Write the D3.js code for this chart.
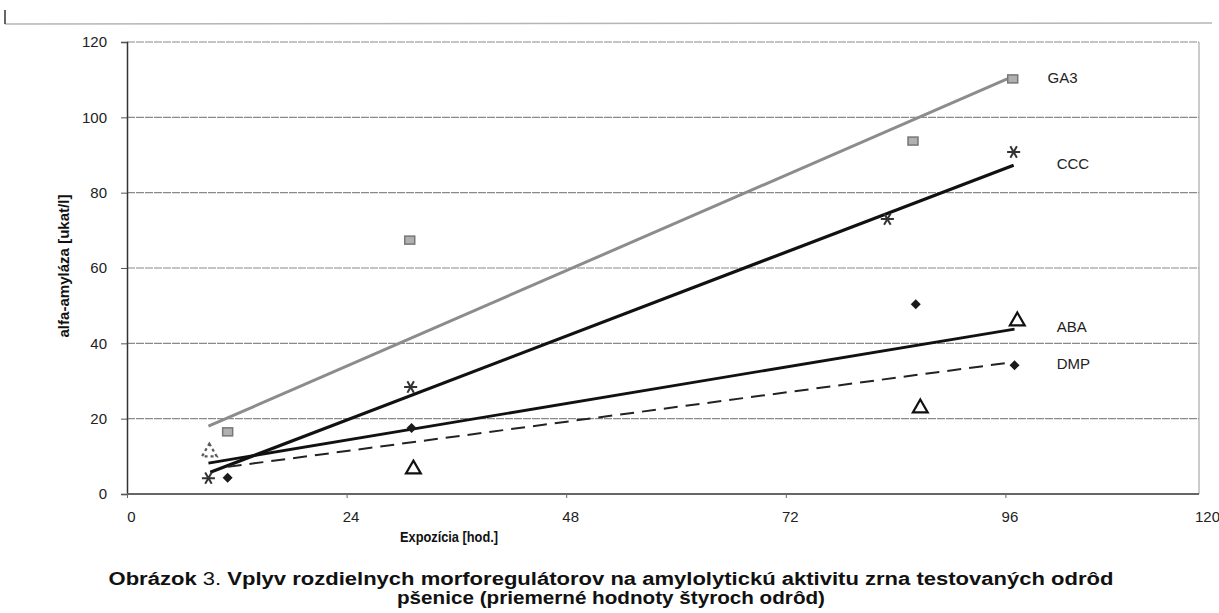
<!DOCTYPE html>
<html lang="sk">
<head>
  <meta charset="UTF-8" />
  <title>Obrázok 3</title>
  <script src="https://d3js.org/d3.v7.min.js"></script>
  <style>
    body { margin: 0; background: #fff; overflow: hidden; }
    svg { display: block; }
    .tick-y { font-family: 'Liberation Sans', Arial, sans-serif; font-size: 15px; fill: #222; }
    .tick-x { font-family: 'Liberation Sans', Arial, sans-serif; font-size: 15px; fill: #222; }
    .title { font-family: 'Liberation Sans', Arial, sans-serif; font-size: 14px; font-weight: bold; fill: #111; }
    .lbl { font-family: 'Liberation Sans', Arial, sans-serif; font-size: 15px; fill: #222; }
    .cap { font-family: 'Liberation Sans', Arial, sans-serif; font-size: 18px; font-weight: bold; fill: #111; }
  </style>
</head>
<body>
<svg width="1219" height="613"></svg>
<script>
// measured points (hours, alfa-amylase)
const ga3Pts = [[11.0, 16.5], [30.9, 67.4], [85.9, 93.7], [96.8, 110.2]];
const cccPts = [[8.9, 4.2], [31.0, 28.4], [83.1, 73.0], [96.9, 90.8]];
const abaPts = [[9.0, 11.1], [31.3, 6.6], [86.7, 22.8], [97.3, 45.9]];
const dmpPts = [[11.0, 4.3], [31.1, 17.5], [86.2, 50.4], [97.0, 34.2]];

// trend line end points
const ga3Trend = [[8.9, 18.0], [96.2, 110.2]];
const cccTrend = [[9.1, 5.8], [96.9, 87.3]];
const abaTrend = [[8.9, 8.2], [97.0, 43.8]];
const dmpTrend = [[11.0, 7.2], [96.8, 35.0]];

const seriesNames = ["GA3", "CCC", "ABA", "DMP"];
const labelPos = [[100.6, 110.5], [101.6, 87.8], [101.6, 44.5], [101.6, 34.5]];

const xTicks = [0, 24, 48, 72, 96, 120];
const yTicks = [0, 20, 40, 60, 80, 100, 120];

const svg = d3.select("svg");
const x = d3.scaleLinear().domain([0, 120]).range([127, 1225]);
const y = d3.scaleLinear().domain([0, 120]).range([494, 42]);
const plotRight = 1199;

// scan header line
svg.append("line").attr("x1", 5).attr("x2", 1212).attr("y1", 24).attr("y2", 23)
  .attr("stroke", "#b5b5b5").attr("stroke-width", 1.5);
svg.append("line").attr("x1", 5).attr("x2", 5).attr("y1", 10).attr("y2", 24)
  .attr("stroke", "#333").attr("stroke-width", 1.5);

// grid
svg.append("g").selectAll("line").data(yTicks.filter(d => d > 0)).join("line")
  .attr("x1", x(0)).attr("x2", plotRight)
  .attr("y1", d => y(d)).attr("y2", d => y(d))
  .attr("stroke", "#8a8a8a").attr("stroke-width", 1.2).attr("stroke-dasharray", "8,1");
svg.append("line").attr("x1", plotRight).attr("x2", plotRight).attr("y1", y(120)).attr("y2", y(0))
  .attr("stroke", "#999").attr("stroke-width", 1);

// axes
const yAxis = svg.append("g").attr("transform", `translate(${x(0)},0)`)
  .call(d3.axisLeft(y).tickValues(yTicks).tickSize(6).tickPadding(14));
yAxis.select(".domain").attr("stroke", "#333").attr("stroke-width", 1.5);
yAxis.selectAll("text").attr("class", "tick-y").attr("font-family", null).attr("font-size", null);
yAxis.selectAll(".tick line").attr("stroke", "#555");

const xAxis = svg.append("g").attr("transform", `translate(0,${y(0)})`)
  .call(d3.axisBottom(x).tickValues(xTicks).tickSize(4).tickPadding(13).tickFormat(d3.format("d")));
xAxis.select(".domain").remove();
xAxis.append("line").attr("x1", x(0)).attr("x2", plotRight).attr("stroke", "#666").attr("stroke-width", 2);
xAxis.selectAll("text").attr("class", "tick-x").attr("font-family", null).attr("font-size", null)
  .attr("dx", d => d === 120 ? -18 : 4);
xAxis.selectAll(".tick line").attr("stroke", "#666");

// axis titles
svg.append("text").attr("class", "title").attr("text-anchor", "middle")
  .attr("transform", `translate(69,${y(60) - 2}) rotate(-90)`)
  .attr("textLength", 143).attr("lengthAdjust", "spacingAndGlyphs").text("alfa-amyláza [ukat/l]");
svg.append("text").attr("class", "title").attr("text-anchor", "middle")
  .attr("x", 449).attr("y", 542).attr("textLength", 98).attr("lengthAdjust", "spacingAndGlyphs")
  .text("Expozícia [hod.]");

// trend lines
const line = d3.line().x(d => x(d[0])).y(d => y(d[1]));
svg.append("path").attr("d", line(ga3Trend)).attr("fill", "none").attr("stroke", "#8c8c8c").attr("stroke-width", 3);
svg.append("path").attr("d", line(cccTrend)).attr("fill", "none").attr("stroke", "#111").attr("stroke-width", 3.2);
svg.append("path").attr("d", line(abaTrend)).attr("fill", "none").attr("stroke", "#111").attr("stroke-width", 2.8);
svg.append("path").attr("d", line(dmpTrend)).attr("fill", "none").attr("stroke", "#222").attr("stroke-width", 2)
  .attr("stroke-dasharray", "14,8");

// markers
svg.append("g").selectAll("rect").data(ga3Pts).join("rect")
  .attr("x", d => x(d[0]) - 5).attr("y", d => y(d[1]) - 4).attr("width", 10).attr("height", 8)
  .attr("fill", "#b0b0b0").attr("stroke", "#777").attr("stroke-width", 1.5);

const star = d3.symbol().type(d3.symbolAsterisk).size(120);
svg.append("g").selectAll("path").data(cccPts).join("path")
  .attr("d", star).attr("transform", d => `translate(${x(d[0])},${y(d[1])}) rotate(30)`)
  .attr("fill", "none").attr("stroke", "#333").attr("stroke-width", 2);

const tri = d3.symbol().type(d3.symbolTriangle).size(95);
svg.append("g").selectAll("path").data(abaPts).join("path")
  .attr("d", tri).attr("transform", d => `translate(${x(d[0])},${y(d[1])})`)
  .attr("fill", "#fff").attr("stroke", "#111").attr("stroke-width", 2.2)
  .attr("stroke-dasharray", (d, i) => i === 0 ? "3,3" : null)
  .attr("stroke-opacity", (d, i) => i === 0 ? 0.7 : 1);

const dia = d3.symbol().type(d3.symbolSquare).size(50);
svg.append("g").selectAll("path").data(dmpPts).join("path")
  .attr("d", dia).attr("transform", d => `translate(${x(d[0])},${y(d[1])}) rotate(45)`)
  .attr("fill", "#1a1a1a");

// series labels
svg.append("g").selectAll("text").data(seriesNames).join("text")
  .attr("class", "lbl").attr("x", (d, i) => x(labelPos[i][0])).attr("y", (d, i) => y(labelPos[i][1]))
  .attr("dy", "0.35em").text(d => d);

// caption
const cap = svg.append("text").attr("class", "cap").attr("text-anchor", "middle").attr("x", 611).attr("y", 585)
  .attr("textLength", 1005).attr("lengthAdjust", "spacingAndGlyphs");
cap.append("tspan").text("Obrázok ");
cap.append("tspan").attr("font-weight", "normal").text("3.");
cap.append("tspan").text(" Vplyv rozdielnych morforegulátorov na amylolytickú aktivitu zrna testovaných odrôd");
svg.append("text").attr("class", "cap").attr("text-anchor", "middle").attr("x", 611).attr("y", 604)
  .attr("textLength", 428).attr("lengthAdjust", "spacingAndGlyphs")
  .text("pšenice (priemerné hodnoty štyroch odrôd)");
</script>
</body>
</html>
